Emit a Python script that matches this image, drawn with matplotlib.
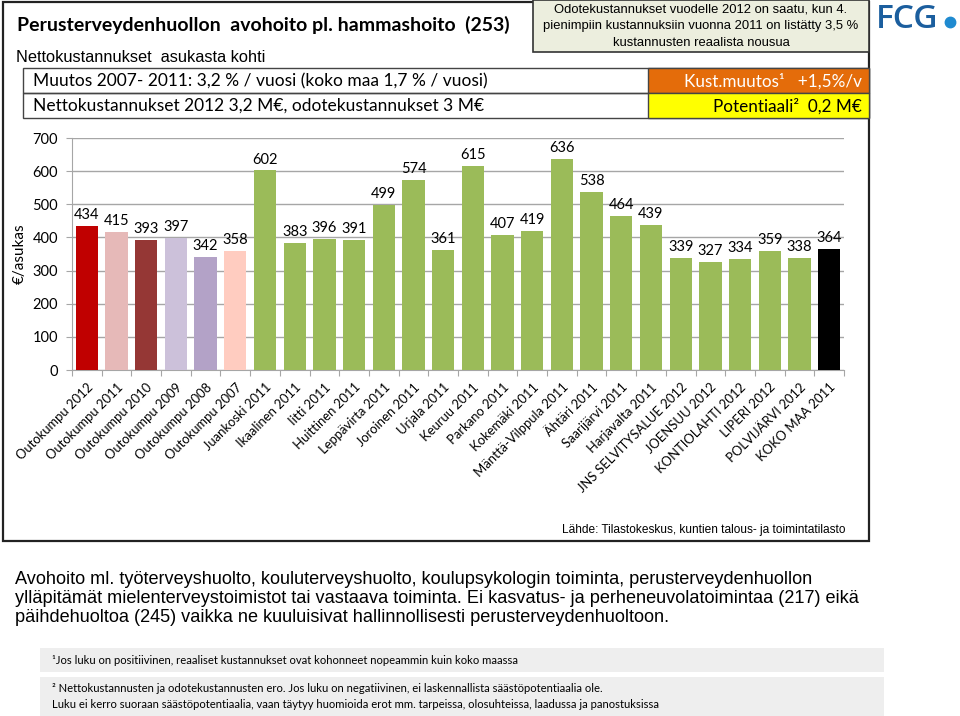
import matplotlib
matplotlib.use("Agg")
import matplotlib.pyplot as plt
from matplotlib.patches import Rectangle
from matplotlib.lines import Line2D

categories = ["Outokumpu 2012", "Outokumpu 2011", "Outokumpu 2010", "Outokumpu 2009",
              "Outokumpu 2008", "Outokumpu 2007", "Juankoski 2011", "Ikaalinen 2011",
              "Iitti 2011", "Huittinen 2011", "Leppävirta 2011", "Joroinen 2011",
              "Urjala 2011", "Keuruu 2011", "Parkano 2011", "Kokemäki 2011",
              "Mänttä-Vilppula 2011", "Ähtäri 2011", "Saarijärvi 2011", "Harjavalta 2011",
              "JNS SELVITYSALUE 2012", "JOENSUU 2012", "KONTIOLAHTI 2012", "LIPERI 2012",
              "POLVIJÄRVI 2012", "KOKO MAA 2011"]
values = [434, 415, 393, 397, 342, 358, 602, 383, 396, 391, 499, 574, 361, 615,
          407, 419, 636, 538, 464, 439, 339, 327, 334, 359, 338, 364]
bar_colors = ["#C00000", "#E6B9B8", "#953735", "#CCC1DA", "#B3A2C7", "#FFCCC0"] + \
             ["#9BBB59"] * 19 + ["#000000"]
yticks = [0, 100, 200, 300, 400, 500, 600, 700]

W, H = 960, 716
fig = plt.figure(figsize=(W / 100, H / 100), dpi=100)


def fx(x):
    return x / W


def fy(y):
    return 1 - y / H


def rect(x0, y0, x1, y1, fc="none", ec="#333333", lw=1.0, z=0):
    fig.add_artist(Rectangle((fx(x0), fy(y1)), fx(x1) - fx(x0), fy(y0) - fy(y1),
                             transform=fig.transFigure, facecolor=fc, edgecolor=ec,
                             linewidth=lw, zorder=z))


# Outer frame
rect(3, 2, 869, 541, ec="#222222", lw=1.6)
# Note box
rect(533, 0, 869, 52, fc="#ECEEDE", ec="#333333", lw=1.2, z=1)
# rows box
rect(23, 68, 869, 93, ec="#444444", lw=1.0)
rect(23, 93, 869, 118, ec="#444444", lw=1.0)
rect(648, 68, 869, 93, fc="#E46C0A", ec="#444444", lw=1.0, z=1)
rect(648, 93, 869, 118, fc="#FFFF00", ec="#444444", lw=1.0, z=1)

calibri = ["Lato", "DejaVu Sans"]
arial = ["Liberation Sans", "DejaVu Sans"]

fig.text(fx(17), fy(25), "Perusterveydenhuollon  avohoito pl. hammashoito  (253)",
         family=calibri, fontsize=14, fontweight="bold", va="center", ha="left")
fig.text(fx(16), fy(57), "Nettokustannukset  asukasta kohti", family=arial,
         fontsize=11.8, va="center", ha="left")
fig.text(fx(33), fy(81), "Muutos 2007- 2011: 3,2 % / vuosi (koko maa 1,7 % / vuosi)",
         family=calibri, fontsize=12.5, va="center", ha="left")
fig.text(fx(33), fy(106), "Nettokustannukset 2012 3,2 M€, odotekustannukset 3 M€",
         family=calibri, fontsize=12.5, va="center", ha="left")
fig.text(fx(862), fy(81), "Kust.muutos¹   +1,5%/v", family=calibri, fontsize=12.3,
         color="white", va="center", ha="right", zorder=3)
fig.text(fx(862), fy(106), "Potentiaali²  0,2 M€", family=calibri, fontsize=12.3,
         color="black", va="center", ha="right", zorder=3)
note_lines = ["Odotekustannukset vuodelle 2012 on saatu, kun 4.",
              "pienimpiin kustannuksiin vuonna 2011 on listätty 3,5 %",
              "kustannusten reaalista nousua"]
for k, line in enumerate(note_lines):
    fig.text(fx(701), fy(9 + 17 * k), line, family=arial, fontsize=9.4,
             va="center", ha="center", zorder=3)

# FCG logo
fig.text(fx(876), fy(20), "FCG", family=["Open Sans", "DejaVu Sans"], fontsize=24,
         color="#1B5E9E", va="center", ha="left", fontweight="semibold")
fig.add_artist(Line2D([fx(950)], [fy(22)], marker="o", markersize=7.5, color="#1F8AD0",
                      transform=fig.transFigure, linestyle="none"))

# Chart axes
ax_left, ax_right, ax_top, ax_bottom = 72, 844, 138, 370
ax = fig.add_axes([fx(ax_left), fy(ax_bottom), fx(ax_right) - fx(ax_left),
                   fy(ax_top) - fy(ax_bottom)])
n = len(values)
xs = list(range(n))
ax.bar(xs, values, width=0.75, color=bar_colors, zorder=3)
ax.set_xlim(-0.5, n - 0.5)
ax.set_ylim(0, 700)
ax.set_yticks(yticks)
ax.yaxis.grid(True, color="#A6A6A6", linewidth=1.0, zorder=0)
for s in ["top", "right"]:
    ax.spines[s].set_visible(False)
ax.spines["left"].set_color("#A6A6A6")
ax.spines["bottom"].set_color("#A6A6A6")
ax.tick_params(axis="y", length=4, color="#A6A6A6", labelsize=10.5, pad=6)
ax.set_xticks([i - 0.5 for i in range(n + 1)])
ax.set_xticklabels([])
ax.tick_params(axis="x", length=4, color="#A6A6A6")
for lab in ax.get_yticklabels():
    lab.set_family(calibri)
for i, (v, c) in enumerate(zip(values, categories)):
    ax.text(i, v + 12, str(v), ha="center", va="bottom", fontsize=10.5,
            family=calibri, zorder=4)
    ax.annotate(c, xy=(i, 0), xycoords=("data", "axes fraction"),
                xytext=(3, -11), textcoords="offset points",
                rotation=45, rotation_mode="anchor", ha="right", va="center",
                fontsize=9.4, family=calibri)
ax.set_ylabel("€/asukas", family=calibri, fontsize=11)
ax.yaxis.set_label_coords((27 - ax_left) / (ax_right - ax_left), 0.5)

fig.text(fx(846), fy(530), "Lähde: Tilastokeskus, kuntien talous- ja toimintatilasto",
         family=arial, fontsize=8.6, ha="right", va="center")

# Bottom paragraph
para_lines = [
    "Avohoito ml. työterveyshuolto, kouluterveyshuolto, koulupsykologin toiminta, perusterveydenhuollon",
    "ylläpitämät mielenterveystoimistot tai vastaava toiminta. Ei kasvatus- ja perheneuvolatoimintaa (217) eikä",
    "päihdehuoltoa (245) vaikka ne kuuluisivat hallinnollisesti perusterveydenhuoltoon."]
for k, line in enumerate(para_lines):
    fig.text(fx(15), fy(579 + 19.5 * k), line, family=arial, fontsize=13.1,
             ha="left", va="center")

# Footnote boxes
rect(40, 648, 884, 672, fc="#EEEEEE", ec="none")
rect(40, 677, 884, 716, fc="#EEEEEE", ec="none")
fig.text(fx(52), fy(660), "¹Jos luku on positiivinen, reaaliset kustannukset ovat kohonneet nopeammin kuin koko maassa",
         family=calibri, fontsize=8.1, ha="left", va="center")
fig.text(fx(52), fy(689), "² Nettokustannusten ja odotekustannusten ero. Jos luku on negatiivinen, ei laskennallista säästöpotentiaalia ole.",
         family=calibri, fontsize=8.1, ha="left", va="center")
fig.text(fx(52), fy(704), "Luku ei kerro suoraan säästöpotentiaalia, vaan täytyy huomioida erot mm. tarpeissa, olosuhteissa, laadussa ja panostuksissa",
         family=calibri, fontsize=8.1, ha="left", va="center")

fig.savefig("out.png", dpi=100)
